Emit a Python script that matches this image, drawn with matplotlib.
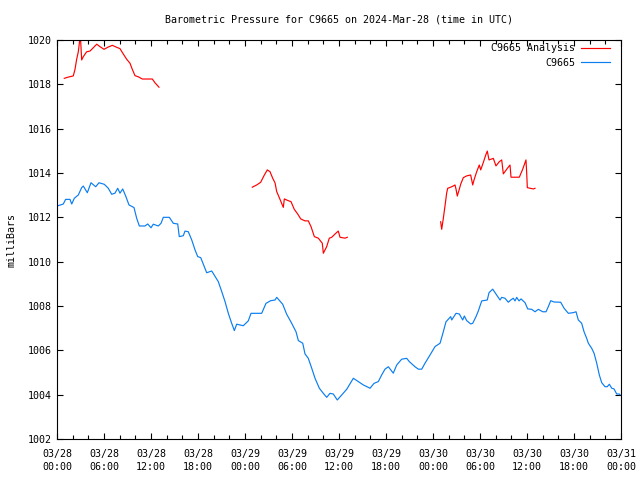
import numpy as np
import pandas as pd
import matplotlib
matplotlib.use("Agg")
import matplotlib.pyplot as plt
import matplotlib.dates as mdates

# hours after 2024-03-28 00:00 UTC and pressure in mb
obs_hours = [0.0, 0.8, 1.1, 1.66, 1.88, 2.21, 2.72, 3.15, 3.36, 3.87, 4.34, 4.94, 5.36, 6.04,
             6.55, 6.98, 7.40, 7.75, 8.04, 8.39, 8.77, 9.19, 9.83, 10.17, 10.51, 11.23, 11.58,
             12.0, 12.29, 12.93, 13.28, 13.57, 14.34, 14.85, 15.41, 15.61, 16.12, 16.34, 16.76,
             17.2, 17.62, 17.96, 18.35, 19.11, 19.75, 20.59, 21.03, 21.45, 21.87, 22.3, 22.64,
             22.94, 23.78, 24.42, 24.77, 26.13, 26.68, 27.28, 27.83, 28.05, 28.81, 29.32, 29.96,
             30.51, 30.81, 31.37, 31.66, 32.08, 32.52, 32.94, 33.49, 34.0, 34.43, 34.85, 35.27,
             35.78, 36.35, 36.98, 37.83, 38.47, 39.1, 39.96, 40.47, 41.02, 41.45, 41.87, 42.3,
             42.93, 43.37, 44.0, 44.64, 44.98, 45.70, 46.13, 46.56, 46.98, 47.62, 48.26, 48.9,
             49.24, 49.66, 50.26, 50.39, 50.94, 51.36, 51.79, 52.0, 52.3, 52.81, 53.07, 53.49,
             53.79, 54.22, 54.93, 55.15, 55.62, 56.04, 56.56, 56.77, 57.19, 57.62, 57.92, 58.25,
             58.47, 58.69, 58.98, 59.24, 59.75, 60.09, 60.6, 61.02, 61.45, 62.01, 62.43, 62.72,
             63.03, 63.45, 64.3, 64.73, 65.28, 65.91, 66.26, 66.55, 66.98, 67.28, 67.62, 67.83,
             68.26, 68.56, 68.9, 69.23, 69.54, 69.96, 70.25, 70.51, 70.82, 71.11, 71.45, 71.79,
             71.88]
obs_mb = [1012.51, 1012.60, 1012.81, 1012.81, 1012.60, 1012.86, 1013.01, 1013.34, 1013.41,
          1013.11, 1013.56, 1013.38, 1013.56, 1013.49, 1013.31, 1013.04, 1013.09, 1013.31,
          1013.09, 1013.28, 1012.96, 1012.56, 1012.44, 1011.96, 1011.61, 1011.61, 1011.70,
          1011.53, 1011.69, 1011.61, 1011.73, 1012.00, 1012.00, 1011.73, 1011.70, 1011.13,
          1011.17, 1011.38, 1011.35, 1010.98, 1010.53, 1010.23, 1010.18, 1009.50, 1009.58,
          1009.10, 1008.65, 1008.20, 1007.67, 1007.22, 1006.89, 1007.18, 1007.11, 1007.33,
          1007.67, 1007.67, 1008.12, 1008.24, 1008.27, 1008.39, 1008.08, 1007.63, 1007.22,
          1006.84, 1006.44, 1006.32, 1005.84, 1005.64, 1005.19, 1004.74, 1004.29, 1004.06,
          1003.88, 1004.06, 1004.03, 1003.76, 1003.99, 1004.24, 1004.74, 1004.59, 1004.44,
          1004.29, 1004.51, 1004.59, 1004.89, 1005.15, 1005.26, 1004.97, 1005.34, 1005.60,
          1005.64, 1005.49, 1005.26, 1005.15, 1005.15, 1005.42, 1005.79, 1006.17, 1006.32,
          1006.74, 1007.29, 1007.52, 1007.37, 1007.67, 1007.64, 1007.37, 1007.55, 1007.34,
          1007.19, 1007.22, 1007.52, 1007.78, 1008.23, 1008.27, 1008.60, 1008.76, 1008.54,
          1008.27, 1008.39, 1008.35, 1008.17, 1008.27, 1008.35, 1008.23, 1008.39, 1008.23,
          1008.32, 1008.15, 1007.87, 1007.85, 1007.74, 1007.85, 1007.74, 1007.74, 1007.97,
          1008.24, 1008.18, 1008.17, 1007.90, 1007.67, 1007.70, 1007.74, 1007.37, 1007.22,
          1006.84, 1006.54, 1006.32, 1006.09, 1005.87, 1005.42, 1004.89, 1004.54, 1004.36,
          1004.36, 1004.47, 1004.29, 1004.26, 1004.03, 1004.03, 1003.99]

# analysis series, three separate runs (NaN = gap)
ana_hours = [0.93, 1.37, 2.08, 2.30, 2.51, 2.72, 2.85, 2.97, 3.15, 3.36, 3.79, 4.21, 4.63,
             5.07, 5.49, 6.0, 6.47, 7.06, 7.62, 8.04, 8.46, 8.90, 9.32, 9.61, 9.96, 10.38,
             10.89, 12.17, 12.51, 13.02, 18.0,
             24.93, 25.49, 26.0, 26.47, 26.85, 27.19, 27.54, 27.83, 28.05, 28.47, 28.76, 28.89,
             29.02, 29.53, 29.87, 30.29, 30.73, 31.11, 31.66, 32.08, 32.43, 32.85, 33.36, 33.87,
             34.0, 34.43, 34.76, 35.07, 35.5, 35.91, 36.13, 36.77, 37.06, 42.0,
             48.98, 49.11, 49.32, 49.53, 49.75, 49.88, 50.39, 50.81, 50.94, 51.1, 51.36, 51.54,
             51.87, 52.3, 52.81, 53.07, 53.24, 53.58, 53.91, 54.09, 54.42, 54.73, 54.93, 55.15,
             55.7, 56.04, 56.46, 56.77, 56.98, 57.49, 57.83, 57.96, 59.02, 59.45, 59.87, 59.96,
             60.04, 60.81, 61.02]
ana_mb = [1018.27, 1018.32, 1018.38, 1018.68, 1019.13, 1019.47, 1019.85, 1020.3, 1019.10,
          1019.25, 1019.47, 1019.50, 1019.65, 1019.81, 1019.70, 1019.58, 1019.67, 1019.76,
          1019.67, 1019.61, 1019.37, 1019.13, 1018.95, 1018.68, 1018.39, 1018.34, 1018.24,
          1018.24, 1018.07, 1017.87, np.nan,
          1013.36, 1013.46, 1013.58, 1013.91, 1014.14, 1014.06, 1013.76, 1013.56, 1013.16,
          1012.81, 1012.56, 1012.45, 1012.83, 1012.75, 1012.71, 1012.36, 1012.15, 1011.93,
          1011.84, 1011.84, 1011.58, 1011.13, 1011.06, 1010.83, 1010.38, 1010.68, 1011.06,
          1011.10, 1011.25, 1011.38, 1011.10, 1011.06, 1011.10, np.nan,
          1011.80, 1011.46, 1011.96, 1012.51, 1013.11, 1013.31, 1013.38, 1013.46, 1013.27,
          1012.96, 1013.27, 1013.50, 1013.79, 1013.87, 1013.91, 1013.46, 1013.69, 1014.06,
          1014.36, 1014.14, 1014.47, 1014.81, 1014.99, 1014.59, 1014.66, 1014.32, 1014.51,
          1014.59, 1013.96, 1014.21, 1014.36, 1013.81, 1013.81, 1014.17, 1014.59, 1014.01,
          1013.34, 1013.28, 1013.31]

start = pd.Timestamp("2024-03-28 00:00")
t_obs = start + pd.to_timedelta(obs_hours, unit="h")
t_ana = start + pd.to_timedelta(ana_hours, unit="h")

font = "DejaVu Sans Mono"
fs = 7.2
plt.rcParams["font.family"] = font
plt.rcParams["font.size"] = fs

fig = plt.figure(figsize=(6.4, 4.8), dpi=100)
ax = fig.add_axes([57 / 640, 1 - 439 / 480, 564 / 640, 399 / 480])

ax.plot(t_ana, ana_mb, color="#ff0000", lw=0.85, label="C9665 Analysis")
ax.plot(t_obs, obs_mb, color="#0a7df0", lw=0.85, label="C9665")

ax.set_xlim(start, start + pd.Timedelta(hours=72))
ax.set_ylim(1002, 1020)
ax.set_yticks(np.arange(1002, 1021, 2))
ax.xaxis.set_major_locator(mdates.HourLocator(byhour=range(0, 24, 6)))
ax.xaxis.set_minor_locator(mdates.HourLocator(byhour=range(0, 24, 2)))
ax.xaxis.set_major_formatter(mdates.DateFormatter("%m/%d\n%H:%M"))

ax.tick_params(which="both", direction="in", top=True, right=True, width=0.8)
ax.tick_params(which="major", length=4)
ax.tick_params(which="minor", length=3)
ax.tick_params(axis="y", pad=4)
ax.tick_params(axis="x", pad=7)
for lab in ax.get_xticklabels():
    lab.set_linespacing(1.35)
for s in ax.spines.values():
    s.set_linewidth(0.8)

fig.text(339 / 640, 1 - 20 / 480, "Barometric Pressure for C9665 on 2024-Mar-28 (time in UTC)",
         ha="center", va="center")
fig.text(12 / 640, 0.5, "milliBars", rotation=90, ha="center", va="center")

ax.legend(loc="upper right", bbox_to_anchor=(610 / 640, 1 - 43 / 480),
          bbox_transform=fig.transFigure, frameon=False, markerfirst=False,
          handlelength=2.9, handletextpad=0.6, borderpad=0, borderaxespad=0,
          labelspacing=0.45)

fig.savefig("out.png", dpi=100)
